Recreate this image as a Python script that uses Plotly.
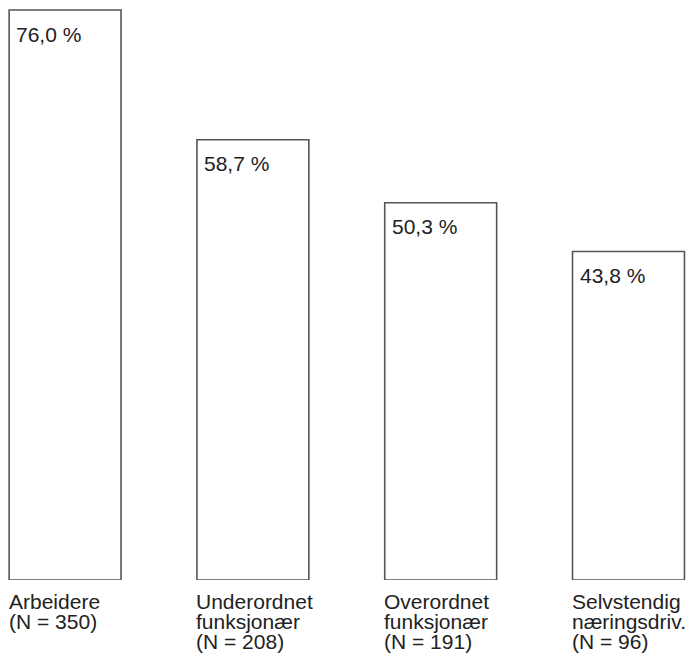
import plotly.graph_objects as go

categories = [["Arbeidere"], ["Underordnet", "funksjonær"], ["Overordnet", "funksjonær"], ["Selvstendig", "næringsdriv."]]
n_values = [350, 208, 191, 96]
percent = [76.0, 58.7, 50.3, 43.8]
value_labels = ["76,0 %", "58,7 %", "50,3 %", "43,8 %"]

xpos = list(range(len(percent)))
bar_w = 0.596
FONT = "Liberation Sans, Arial, sans-serif"
x_range = [-0.304, 3.3755]


def to_paper(xv):
    return (xv - x_range[0]) / (x_range[1] - x_range[0])


fig = go.Figure(go.Bar(
    x=xpos, y=percent, width=bar_w,
    marker=dict(color="white", line=dict(color="#555555", width=1.6)),
    hoverinfo="skip",
))

annotations = []
for i, (v, lab) in enumerate(zip(percent, value_labels)):
    left = to_paper(i - bar_w / 2)
    annotations.append(dict(
        x=left, y=v, xref="paper", yref="y",
        text=lab, showarrow=False, xanchor="left", yanchor="top",
        xshift=5, yshift=-10.5,
        font=dict(family=FONT, size=21, color="#222222"),
    ))
    lines = categories[i] + [f"(N = {n_values[i]})"]
    for j, line in enumerate(lines):
        annotations.append(dict(
            x=left, y=0, xref="paper", yref="paper",
            text=line, showarrow=False, xanchor="left", yanchor="top",
            xshift=-2.5, yshift=-7.5 - 20 * j,
            font=dict(family=FONT, size=21, color="#222222"),
        ))

# page body has an 8px margin, so the figure is sized to fill the rest of the window
fig.update_layout(
    width=691, height=651,
    margin=dict(l=0, r=0, t=0, b=79),
    paper_bgcolor="white", plot_bgcolor="white",
    showlegend=False,
    xaxis=dict(range=x_range, visible=False, fixedrange=True),
    yaxis=dict(range=[0, 76.27], visible=False, fixedrange=True),
    annotations=annotations,
)

fig.write_html("out.html")
